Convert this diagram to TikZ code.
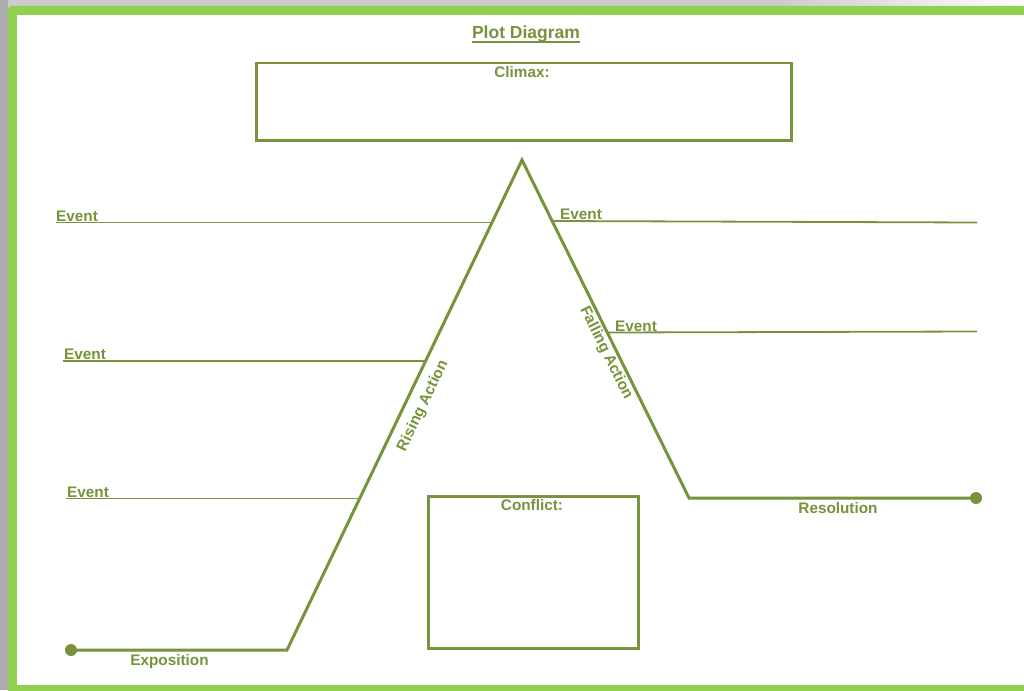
\documentclass[tikz,border=0pt]{standalone}
\usepackage{fontspec}
\setmainfont{Liberation Sans}
\usetikzlibrary{calc}
\definecolor{framegreen}{HTML}{92D050}
\definecolor{olive}{HTML}{77933C}
\begin{document}
\begin{tikzpicture}[x=1pt,y=-1pt,
  lbl/.style={text=olive,font=\fontsize{15.3}{18}\selectfont\bfseries,inner sep=0pt},
  mainline/.style={draw=olive,line width=3pt,line join=miter},
  evline/.style={draw=olive,line width=1.8pt},
  boxline/.style={draw=olive,line width=2.5pt},
  enddot/.style={fill=olive}]
\useasboundingbox (0,0) rectangle (1024,690);
\clip (0,0) rectangle (1024,690);
% background
\fill[gray!40] (0,0) rectangle (1024,690);
\shade[left color=gray!40,right color=white] (780,0) rectangle (1024,6);
\fill[gray!65] (0,0) rectangle (8,690);
\fill[framegreen,rounded corners=4pt] (8,6) rectangle (1040,700);
\fill[white] (17,15) rectangle (1040,685);
% title
\node[lbl,anchor=base,font=\fontsize{17.5}{20}\selectfont\bfseries] (title) at (526,39) {Plot Diagram};
\draw[olive,line width=1.5pt] ([yshift=-3pt]title.base west) -- ([yshift=-3pt]title.base east);
% climax box
\node[boxline,minimum width=535pt,minimum height=77pt,anchor=north west,inner sep=0pt] (climax) at (255,62) {};
\node[lbl,anchor=base] (climaxlbl) at (522,78) {Climax:};
% conflict box
\node[boxline,minimum width=210pt,minimum height=152pt,anchor=north west,inner sep=0pt] (conflict) at (427,495) {};
\node[lbl,anchor=base] (conflictlbl) at (532,510) {Conflict:};
% plot line
\coordinate (expo) at (71,650);
\coordinate (base) at (287,650);
\coordinate (apex) at (522,160);
\coordinate (foot) at (689,498);
\coordinate (resol) at (976,498);
\draw[mainline] (expo) -- (base) -- (apex) -- (foot) -- (resol);
\fill[enddot] (expo) circle (6pt);
\fill[enddot] (resol) circle (6pt);
% left events
\coordinate (l1a) at (56,222.5);
\coordinate (l1b) at (492.5,222.5);
\coordinate (l2a) at (63,361);
\coordinate (l2b) at (426.6,361);
\coordinate (l3a) at (66,498.5);
\coordinate (l3b) at (359.8,498.5);
\draw[evline] (l1a) -- (l1b);
\draw[evline] (l2a) -- (l2b);
\draw[evline] (l3a) -- (l3b);
\node[lbl,anchor=base west] (ev1) at (56,221) {Event};
\node[lbl,anchor=base west] (ev2) at (64,359.5) {Event};
\node[lbl,anchor=base west] (ev3) at (67,497) {Event};
% right events
\coordinate (r1a) at (552.5,221);
\coordinate (r1b) at (977,222.5);
\coordinate (r2a) at (607.5,332.5);
\coordinate (r2b) at (977,331.5);
\draw[evline] (r1a) -- (r1b);
\draw[evline] (r2a) -- (r2b);
\node[lbl,anchor=base west] (ev4) at (560,219) {Event};
\node[lbl,anchor=base west] (ev5) at (615,331) {Event};
% segment labels
\node[lbl,anchor=base] (expolbl) at (169.5,665) {Exposition};
\node[lbl,anchor=base] (resollbl) at (838,513) {Resolution};
\node[lbl,rotate=64.4] (rising) at (423,406) {Rising Action};
\node[lbl,rotate=-63.7] (falling) at (606,353) {Falling Action};
\end{tikzpicture}
\end{document}
